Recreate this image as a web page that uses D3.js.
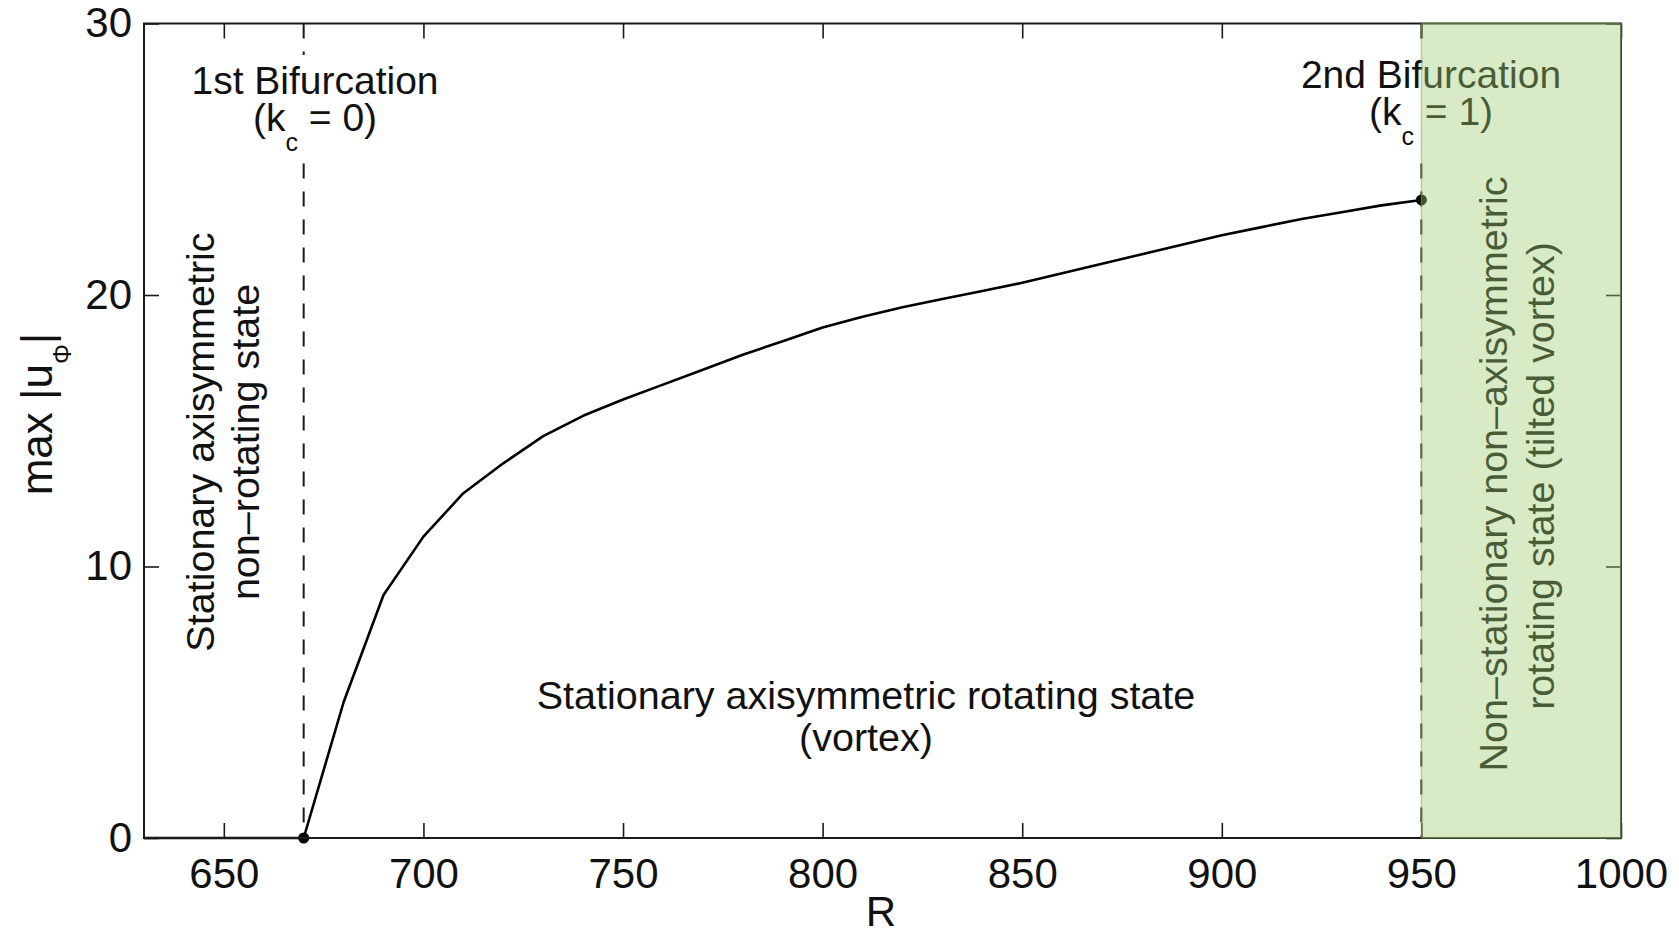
<!DOCTYPE html>
<html><head><meta charset="utf-8">
<script src="https://cdn.jsdelivr.net/npm/d3@7"></script>
<style>
html,body{margin:0;padding:0;background:#fff;}
svg{display:block;}
text{font-family:"Liberation Sans",Arial,Helvetica,sans-serif;fill:#111;}
</style></head><body>
<svg id="chart" width="1679" height="937"></svg>
<script>
// ---- data ----
const R    = [630, 640, 650, 660, 670, 680, 690, 700, 710, 720, 730, 740, 750, 760, 770, 780, 790, 800,
              810, 820, 830, 840, 850, 860, 870, 880, 890, 900, 910, 920, 930, 940, 950];
const maxU = [0, 0, 0, 0, 0, 5.0, 8.95, 11.1, 12.7, 13.8, 14.8, 15.55, 16.15, 16.7, 17.25, 17.8, 18.3, 18.8,
              19.2, 19.55, 19.85, 20.15, 20.45, 20.8, 21.15, 21.5, 21.85, 22.2, 22.5, 22.8, 23.05, 23.3, 23.5];
const bifR = [670, 950];
const bifU = [0, 23.5];
const xTicks = [650, 700, 750, 800, 850, 900, 950, 1000];
const yTicks = [0, 10, 20, 30];
const xDomain = [630, 1000];
const yDomain = [0, 30];
const regionR = [950, 1000];

// ---- layout ----
const L = 144, Rt = 1621, T = 23.5, B = 838;
const svg = d3.select("#chart");
const x = d3.scaleLinear().domain(xDomain).range([L, Rt]);
const y = d3.scaleLinear().domain(yDomain).range([B, T]);
const ink = "#1a1a1a";
const fs = "39.5px";

// dashed bifurcation lines
svg.append("g").selectAll("line").data(bifR).join("line")
  .attr("x1", d => x(d)).attr("x2", d => x(d))
  .attr("y1", T).attr("y2", B)
  .attr("stroke", ink).attr("stroke-width", 2).attr("stroke-dasharray", "15,13");

// curve
const line = d3.line().x((d, i) => x(R[i])).y(d => y(d));
svg.append("path").datum(maxU).attr("d", line)
  .attr("fill", "none").attr("stroke", "#000").attr("stroke-width", 2.6).attr("stroke-linejoin", "round");

// points
svg.append("g").selectAll("circle").data(bifR).join("circle")
  .attr("cx", d => x(d)).attr("cy", (d, i) => y(bifU[i])).attr("r", 5.5).attr("fill", "#000");

// axes
const tk = 15;
function styleAxis(g) {
  g.select(".domain").remove();
  g.selectAll(".tick line").attr("stroke", ink).attr("stroke-width", 1.6);
  g.selectAll(".tick text").attr("fill", ink).style("font-size", "42px")
   .style("font-family", '"Liberation Sans",Arial,sans-serif');
}
svg.append("g").attr("transform", `translate(0,${B})`)
  .call(d3.axisBottom(x).tickValues(xTicks).tickSize(-tk).tickPadding(20).tickFormat(d3.format("d")))
  .call(styleAxis);
svg.append("g").attr("transform", `translate(0,${T})`)
  .call(d3.axisTop(x).tickValues(xTicks).tickSize(-tk).tickFormat(""))
  .call(styleAxis);
svg.append("g").attr("transform", `translate(${L},0)`)
  .call(d3.axisLeft(y).tickValues(yTicks).tickSize(-tk).tickPadding(12).tickFormat(d3.format("d")))
  .call(styleAxis);
svg.append("g").attr("transform", `translate(${Rt},0)`)
  .call(d3.axisRight(y).tickValues(yTicks).tickSize(-tk).tickFormat(""))
  .call(styleAxis);

svg.append("rect").attr("x", L).attr("y", T).attr("width", Rt - L).attr("height", B - T)
  .attr("fill", "none").attr("stroke", ink).attr("stroke-width", 2);

// axis labels
svg.append("text").attr("x", 881).attr("y", 926).attr("text-anchor", "middle")
  .style("font-size", "42px").text("R");
const yl = svg.append("text").attr("transform", "translate(52,414) rotate(-90)")
  .attr("text-anchor", "middle").style("font-size", "44px");
yl.append("tspan").text("max |u");
yl.append("tspan").attr("dy", 19).style("font-size", "25px").text("\u03A6");
yl.append("tspan").attr("dy", -19).text("|");

// bifurcation labels with white background
function bifLabel(cx, y1, line1, rest) {
  const g = svg.append("g");
  const bg = g.append("rect").attr("fill", "#fff");
  g.append("text").attr("x", cx).attr("y", y1).attr("text-anchor", "middle")
    .style("font-size", "39px").text(line1);
  const t2 = g.append("text").attr("x", cx).attr("y", y1 + 37).attr("text-anchor", "middle")
    .style("font-size", "39px");
  t2.append("tspan").text("(k");
  t2.append("tspan").attr("dy", 20).style("font-size", "25px").text("c");
  t2.append("tspan").attr("dy", -20).text(" = " + rest + ")");
  const bb = g.node().getBBox();
  bg.attr("x", bb.x - 5).attr("y", bb.y - 4).attr("width", bb.width + 10).attr("height", bb.height + 6);
}
bifLabel(315, 94, "1st Bifurcation", "0");
bifLabel(1431, 88, "2nd Bifurcation", "1");

// region texts
function vtext(px, py, s) {
  svg.append("text").attr("transform", `translate(${px},${py}) rotate(-90)`)
    .attr("text-anchor", "middle").style("font-size", fs).text(s);
}
vtext(214, 442, "Stationary axisymmetric");
vtext(259, 442, "non\u2013rotating state");
svg.append("text").attr("x", 866).attr("y", 709).attr("text-anchor", "middle")
  .style("font-size", fs).text("Stationary axisymmetric rotating state");
svg.append("text").attr("x", 866).attr("y", 751).attr("text-anchor", "middle")
  .style("font-size", fs).text("(vortex)");
vtext(1507, 474, "Non\u2013stationary non\u2013axisymmetric");
vtext(1554, 476, "rotating state (tilted vortex)");

// translucent green region on top
svg.append("rect").attr("x", x(regionR[0])).attr("y", T)
  .attr("width", x(regionR[1]) - x(regionR[0])).attr("height", B - T)
  .attr("fill", "rgb(157,205,112)").attr("fill-opacity", 0.4)
  .attr("stroke", "rgb(120,160,90)").attr("stroke-opacity", 0.5).attr("stroke-width", 1.5);
</script>
</body></html>
